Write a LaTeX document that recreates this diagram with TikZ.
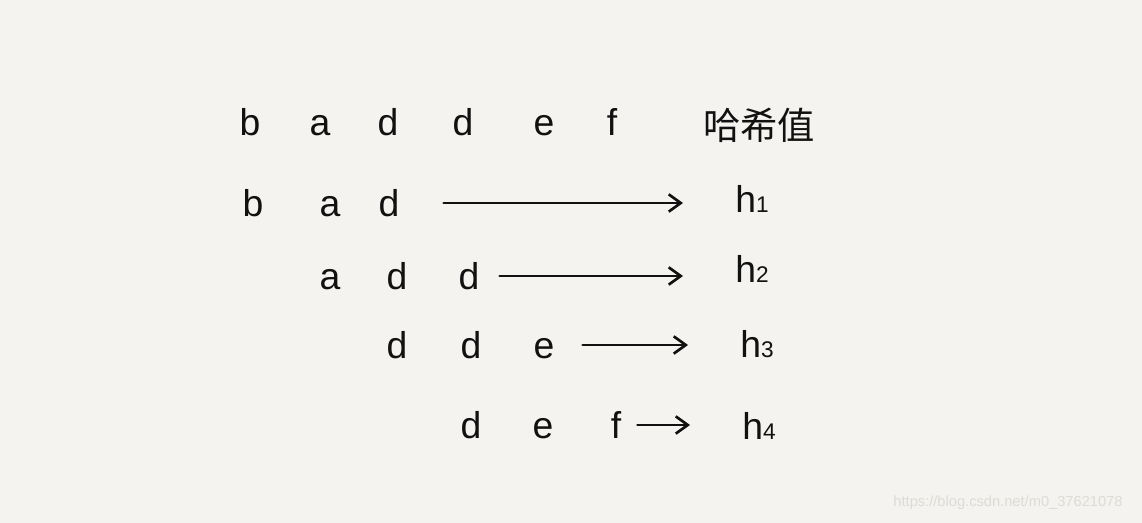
\documentclass[tikz,border=0pt]{standalone}
\usepackage{fontspec}
\setmainfont{Liberation Sans}
\newfontfamily\cjk{Noto Sans CJK SC}
\usetikzlibrary{arrows.meta}
\definecolor{fundo}{HTML}{F4F3EF}
\definecolor{tinta}{HTML}{111111}
\definecolor{marca}{HTML}{DCDBD6}
\tikzset{
  letra/.style={anchor=base, inner sep=0pt, text height=21pt, text depth=0pt,
    font=\fontsize{28}{28}\selectfont, text=tinta},
  hash/.style={anchor=base west, inner sep=0pt, font=\fontsize{28}{28}\selectfont, text=tinta},
  seta/.style={line width=2pt, tinta, line cap=round,
    -{Straight Barb[length=9pt,width=13pt]}, shorten >=39pt},
}
\newcommand{\hsub}[1]{{\fontsize{17}{17}\selectfont #1}}

\begin{document}
\begin{tikzpicture}[x=0.75pt, y=-0.75pt]
    % Fundo
    \fill[fundo] (0,0) rectangle (1142,523);

    % Cadeia principal
    \foreach \ch/\x [count=\i] in {b/250,a/320,d/388,d/463,e/544,f/612}
        \node[letra] (s\i) at (\x,136) {\ch};
    \node[letra] (titulo) at (759,140) {\cjk 哈希值};

    % Janelas de tamanho 3
    \foreach \ch/\x [count=\i] in {b/253,a/330,d/389}
        \node[letra] (w1\i) at (\x,217) {\ch};
    \foreach \ch/\x [count=\i] in {a/330,d/397,d/469}
        \node[letra] (w2\i) at (\x,290) {\ch};
    \foreach \ch/\x [count=\i] in {d/397,d/471,e/544}
        \node[letra] (w3\i) at (\x,359) {\ch};
    \foreach \ch/\x [count=\i] in {d/471,e/543,f/616}
        \node[letra] (w4\i) at (\x,439) {\ch};

    % Valores de hash
    \node[hash] (h1) at (735,213) {h\hsub{1}};
    \node[hash] (h2) at (735,283) {h\hsub{2}};
    \node[hash] (h3) at (740,358) {h\hsub{3}};
    \node[hash] (h4) at (742,440) {h\hsub{4}};

    % Setas
    \foreach \r/\g in {1/33pt,2/15pt,3/21pt,4/12pt}
        \draw[seta, shorten <=\g] (w\r3.east) -- (w\r3.east -| h\r.west);

    % Marca d'agua
    \node[font=\fontsize{11}{11}\selectfont, text=marca] (url) at (1008,503) {https://blog.csdn.net/m0\_37621078};
\end{tikzpicture}
\end{document}
